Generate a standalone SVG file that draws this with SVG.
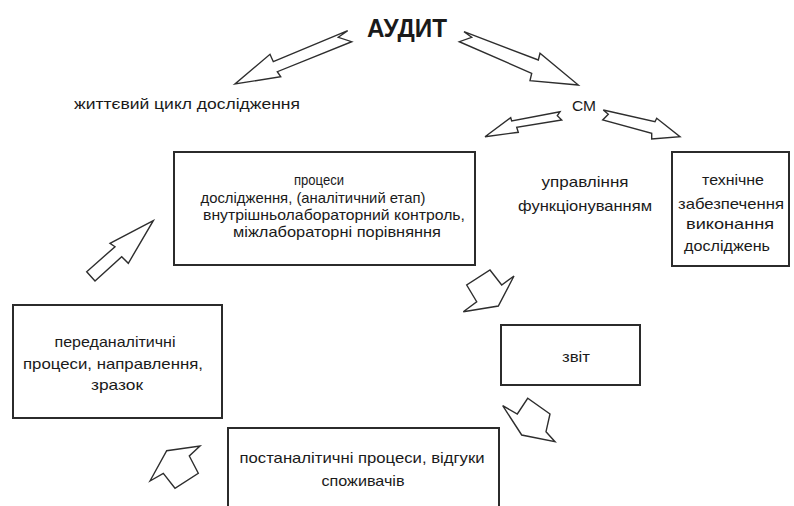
<svg xmlns="http://www.w3.org/2000/svg" width="794" height="506" viewBox="0 0 794 506">
  <style>
    .box { fill: #fff; stroke: #2b2b2b; stroke-width: 2; }
    .arr { fill: #fff; stroke: #2e2e2e; stroke-width: 1.4; stroke-linejoin: miter; }
    text { font-family: "Liberation Sans Narrow", "Liberation Sans", Arial, sans-serif; fill: #1a1a1a; text-anchor: middle; }
    .t { font-size: 14.5px; }
    .title { font-size: 25px; font-weight: bold; }
  </style>
  <rect width="794" height="506" fill="#fff"/>

  <g id="audit">
    <text class="title" x="407" y="37" textLength="80" lengthAdjust="spacingAndGlyphs">АУДИТ</text>
  </g>
  <g id="life-cycle">
    <text class="t" x="187" y="109" textLength="226" lengthAdjust="spacingAndGlyphs">життєвий цикл дослідження</text>
  </g>
  <g id="cm">
    <text class="t" x="584" y="111" font-size="16" textLength="24" lengthAdjust="spacingAndGlyphs">СМ</text>
  </g>
  <g id="management">
    <text class="t" x="585" y="187" textLength="87" lengthAdjust="spacingAndGlyphs">управління</text>
    <text class="t" x="585" y="211" textLength="134" lengthAdjust="spacingAndGlyphs">функціонуванням</text>
  </g>

  <g id="processes">
    <rect class="box" x="174" y="152" width="301" height="113"/>
    <text class="t" x="319" y="185" textLength="50" lengthAdjust="spacingAndGlyphs">процеси</text>
    <text class="t" x="313" y="203" textLength="225" lengthAdjust="spacingAndGlyphs">дослідження, (аналітичний етап)</text>
    <text class="t" x="334" y="220" textLength="262" lengthAdjust="spacingAndGlyphs">внутрішньолабораторний контроль,</text>
    <text class="t" x="337" y="237" textLength="208" lengthAdjust="spacingAndGlyphs">міжлабораторні порівняння</text>
  </g>

  <g id="technical">
    <rect class="box" x="672" y="152" width="117" height="114"/>
    <text class="t" x="733" y="185" textLength="62" lengthAdjust="spacingAndGlyphs">технічне</text>
    <text class="t" x="731" y="209" textLength="106" lengthAdjust="spacingAndGlyphs">забезпечення</text>
    <text class="t" x="730" y="229" textLength="88" lengthAdjust="spacingAndGlyphs">виконання</text>
    <text class="t" x="727" y="251" textLength="86" lengthAdjust="spacingAndGlyphs">досліджень</text>
  </g>

  <g id="pre-analytic">
    <rect class="box" x="13" y="305" width="209" height="113"/>
    <text class="t" x="115" y="347" textLength="121" lengthAdjust="spacingAndGlyphs">переданалітичні</text>
    <text class="t" x="113" y="369" textLength="180" lengthAdjust="spacingAndGlyphs">процеси, направлення,</text>
    <text class="t" x="117" y="390" textLength="52" lengthAdjust="spacingAndGlyphs">зразок</text>
  </g>

  <g id="report">
    <rect class="box" x="501" y="325" width="139" height="60"/>
    <text class="t" x="576" y="362" textLength="28" lengthAdjust="spacingAndGlyphs">звіт</text>
  </g>

  <g id="post-analytic">
    <rect class="box" x="228" y="428" width="271" height="90"/>
    <text class="t" x="362" y="463" textLength="245" lengthAdjust="spacingAndGlyphs">постаналітичні процеси, відгуки</text>
    <text class="t" x="363" y="486" textLength="83" lengthAdjust="spacingAndGlyphs">споживачів</text>
  </g>

  <g id="connectors">
    <!-- АУДИТ to life cycle -->
    <polygon class="arr" points="347.7,30.7 273.3,61.7 270,54.3 235,84 280.7,76.7 277.3,71.7 351.7,41.7 338.3,37.3"/>
    <!-- АУДИТ to СМ -->
    <polygon class="arr" points="464,31.7 538.3,60 540,53.3 578.3,85 530,80.7 531.7,73.3 459.3,41.7 471.7,37.3"/>
    <!-- СМ branches -->
    <polygon class="arr" points="560,111.7 511.7,121 510.7,117.7 485,136.7 518.3,132.3 516.7,127.3 561.7,120 557.3,115.7"/>
    <polygon class="arr" points="603.3,110 655,121.7 656.7,118.3 680,136.7 651.7,139 651.7,133.3 602.7,120 608.3,114.3"/>
    <!-- cycle arrows -->
    <polygon class="arr" points="153.3,220.7 110,243.3 115,246.7 86.7,271.7 95,281 121.7,256.7 128.3,263.3"/>
    <polygon class="arr" points="490,270 501.7,285 514,276 498.3,306 463.3,311.7 476.7,301.7 466.7,285"/>
    <polygon class="arr" points="502.7,405.7 517.3,414 527.7,398.3 550,414 546,431.7 555,441.7 521.7,435"/>
    <polygon class="arr" points="150,481 166.7,450.7 200,446 189.3,456 198.3,473.3 175,488.3 163.3,473.3"/>
  </g>
</svg>
